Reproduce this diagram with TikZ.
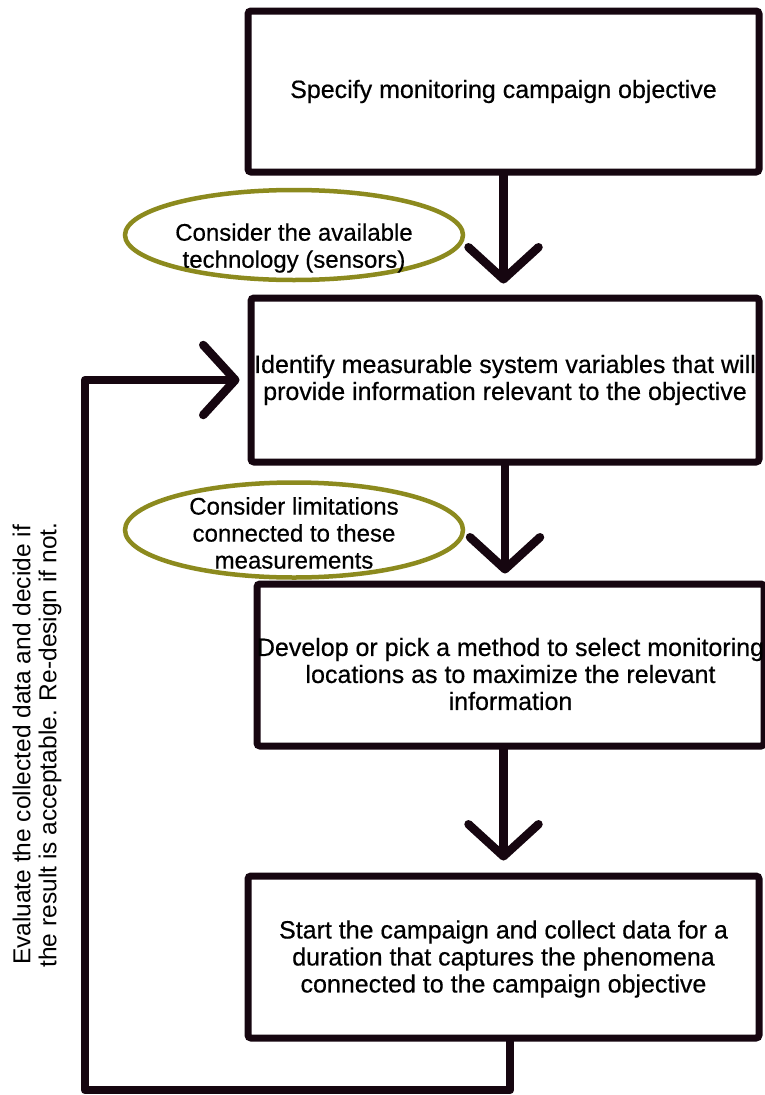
\documentclass[tikz,border=0pt]{standalone}
\usepackage{fontspec}
\setmainfont{Liberation Sans}
\newfontfamily\medfont{Liberation Sans}[FakeBold=0.5]
\usetikzlibrary{arrows.meta,shapes.geometric}
\definecolor{ink}{RGB}{22,6,16}
\definecolor{olivec}{RGB}{140,138,30}
\begin{document}
\begin{tikzpicture}[x=1pt,y=-1pt,
  box/.style={draw=ink, line width=7pt, rounded corners=3pt, inner sep=0pt,
    minimum width=511pt, minimum height=161pt},
  btxt/.style={align=center, font=\medfont\fontsize{25}{27}\selectfont},
  oval/.style={ellipse, draw=olivec, line width=4.5pt, inner sep=0pt,
    minimum width=338pt, minimum height=90pt},
  otxt/.style={align=center, font=\medfont\fontsize{24}{27}\selectfont},
  arr/.style={draw=ink, line width=8.5pt, line cap=round, line join=round,
    -{Straight Barb[length=32pt, width=70pt, line cap=round, line join=round]}}]
\useasboundingbox (0,0) rectangle (765,1095);
\fill[white] (0,0) rectangle (765,1095);

\node[box, label={[btxt]center:Specify monitoring campaign objective}] (b1) at (503.5,91.5) {};
\node[box, minimum width=508pt, minimum height=164pt,
  label={[btxt]center:Identify measurable system variables that will\\provide information relevant to the objective}] (b2) at (505,380) {};
\node[box, minimum width=507pt, minimum height=162pt,
  label={[btxt, yshift=-9pt]center:Develop or pick a method to select monitoring\\locations as to maximize the relevant\\information}] (b3) at (510.5,665) {};
\node[box, minimum height=162pt,
  label={[btxt, yshift=-2pt]center:Start the campaign and collect data for a\\duration that captures the phenomena\\connected to the campaign objective}] (b4) at (503.5,957) {};

\node[oval, label={[otxt, yshift=-13pt]center:Consider the available\\technology (sensors)}] (e1) at (294,235) {};
\node[oval, minimum height=95pt, label={[otxt, yshift=-3pt]center:Consider limitations\\connected to these\\measurements}] (e2) at (294,530) {};

\node[rotate=90, align=center, font=\fontsize{24.5}{26}\selectfont] (ev) at (37,745)
  {Evaluate the collected data and decide if\\the result is acceptable. Re-design if not.};

\draw[arr, shorten >=11pt] (b1.south) -- (b1.south |- b2.north);
\draw[arr, shorten >=7pt] (b2.south) -- (b2.south |- b3.north);
\draw[arr, shorten >=12pt] (b4.north |- b3.south) -- (b4.north);

\coordinate (ls) at ([xshift=6.5pt]b4.south);
\coordinate (lb) at (85,1090);
\draw[arr, shorten >=8pt] (ls) |- (lb) |- (b2.west);
\end{tikzpicture}
\end{document}
